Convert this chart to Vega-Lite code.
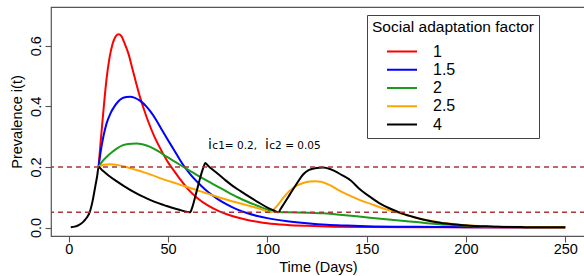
{
  "$schema": "https://vega.github.io/schema/vega-lite/v6.json",
  "width": 534,
  "height": 229,
  "autosize": {"type": "none"},
  "padding": {"left": 51, "top": 7, "right": 0, "bottom": 40},
  "background": "white",
  "config": {
    "view": {"stroke": "#555555", "strokeWidth": 1.2},
    "font": "Liberation Sans",
    "axis": {"grid": false, "domain": false, "tickColor": "#555555", "tickSize": 6, "tickWidth": 1.1, "labelColor": "black", "titleColor": "black", "labelFont": "Liberation Sans", "titleFont": "Liberation Sans", "labelFontSize": 14.5, "titleFontSize": 14.5, "titleFontWeight": "normal", "labelOverlap": false, "labelFlush": false}
  },
  "datasets": {
    "curves": [
      {"factor": "1", "day": 15, "prevalence": 0.2},
      {"factor": "1", "day": 16, "prevalence": 0.28},
      {"factor": "1", "day": 17.5, "prevalence": 0.39},
      {"factor": "1", "day": 19, "prevalence": 0.49},
      {"factor": "1", "day": 20.5, "prevalence": 0.56},
      {"factor": "1", "day": 22, "prevalence": 0.605},
      {"factor": "1", "day": 23.5, "prevalence": 0.63},
      {"factor": "1", "day": 25, "prevalence": 0.638},
      {"factor": "1", "day": 26.5, "prevalence": 0.632},
      {"factor": "1", "day": 28, "prevalence": 0.61},
      {"factor": "1", "day": 30, "prevalence": 0.575},
      {"factor": "1", "day": 32, "prevalence": 0.525},
      {"factor": "1", "day": 34, "prevalence": 0.475},
      {"factor": "1", "day": 36, "prevalence": 0.428},
      {"factor": "1", "day": 38, "prevalence": 0.387},
      {"factor": "1", "day": 40, "prevalence": 0.35},
      {"factor": "1", "day": 43, "prevalence": 0.302},
      {"factor": "1", "day": 46, "prevalence": 0.262},
      {"factor": "1", "day": 50, "prevalence": 0.215},
      {"factor": "1", "day": 53, "prevalence": 0.187},
      {"factor": "1", "day": 56, "prevalence": 0.16},
      {"factor": "1", "day": 60, "prevalence": 0.127},
      {"factor": "1", "day": 65, "prevalence": 0.096},
      {"factor": "1", "day": 70, "prevalence": 0.073},
      {"factor": "1", "day": 75, "prevalence": 0.056},
      {"factor": "1", "day": 80, "prevalence": 0.043},
      {"factor": "1", "day": 85, "prevalence": 0.033},
      {"factor": "1", "day": 90, "prevalence": 0.025},
      {"factor": "1", "day": 95, "prevalence": 0.019},
      {"factor": "1", "day": 100, "prevalence": 0.014},
      {"factor": "1", "day": 110, "prevalence": 0.0085},
      {"factor": "1", "day": 120, "prevalence": 0.0055},
      {"factor": "1", "day": 130, "prevalence": 0.0035},
      {"factor": "1", "day": 150, "prevalence": 0.0018},
      {"factor": "1", "day": 175, "prevalence": 0.001},
      {"factor": "1", "day": 200, "prevalence": 0.0006},
      {"factor": "1", "day": 250, "prevalence": 0.0003},

      {"factor": "1.5", "day": 15, "prevalence": 0.2},
      {"factor": "1.5", "day": 16, "prevalence": 0.248},
      {"factor": "1.5", "day": 17.5, "prevalence": 0.303},
      {"factor": "1.5", "day": 19, "prevalence": 0.343},
      {"factor": "1.5", "day": 21, "prevalence": 0.377},
      {"factor": "1.5", "day": 23, "prevalence": 0.4},
      {"factor": "1.5", "day": 25, "prevalence": 0.417},
      {"factor": "1.5", "day": 27, "prevalence": 0.427},
      {"factor": "1.5", "day": 29, "prevalence": 0.431},
      {"factor": "1.5", "day": 31, "prevalence": 0.432},
      {"factor": "1.5", "day": 33, "prevalence": 0.429},
      {"factor": "1.5", "day": 36, "prevalence": 0.418},
      {"factor": "1.5", "day": 39, "prevalence": 0.4},
      {"factor": "1.5", "day": 41, "prevalence": 0.384},
      {"factor": "1.5", "day": 44, "prevalence": 0.355},
      {"factor": "1.5", "day": 47, "prevalence": 0.321},
      {"factor": "1.5", "day": 50, "prevalence": 0.288},
      {"factor": "1.5", "day": 53, "prevalence": 0.256},
      {"factor": "1.5", "day": 56, "prevalence": 0.223},
      {"factor": "1.5", "day": 58, "prevalence": 0.203},
      {"factor": "1.5", "day": 61, "prevalence": 0.177},
      {"factor": "1.5", "day": 66, "prevalence": 0.142},
      {"factor": "1.5", "day": 70, "prevalence": 0.118},
      {"factor": "1.5", "day": 75, "prevalence": 0.094},
      {"factor": "1.5", "day": 80, "prevalence": 0.075},
      {"factor": "1.5", "day": 85, "prevalence": 0.059},
      {"factor": "1.5", "day": 90, "prevalence": 0.047},
      {"factor": "1.5", "day": 95, "prevalence": 0.038},
      {"factor": "1.5", "day": 100, "prevalence": 0.031},
      {"factor": "1.5", "day": 110, "prevalence": 0.021},
      {"factor": "1.5", "day": 120, "prevalence": 0.014},
      {"factor": "1.5", "day": 130, "prevalence": 0.009},
      {"factor": "1.5", "day": 140, "prevalence": 0.0065},
      {"factor": "1.5", "day": 150, "prevalence": 0.0045},
      {"factor": "1.5", "day": 175, "prevalence": 0.0022},
      {"factor": "1.5", "day": 200, "prevalence": 0.0012},
      {"factor": "1.5", "day": 250, "prevalence": 0.0005},

      {"factor": "2", "day": 15, "prevalence": 0.2},
      {"factor": "2", "day": 17, "prevalence": 0.219},
      {"factor": "2", "day": 19, "prevalence": 0.233},
      {"factor": "2", "day": 22, "prevalence": 0.25},
      {"factor": "2", "day": 24.5, "prevalence": 0.262},
      {"factor": "2", "day": 27, "prevalence": 0.271},
      {"factor": "2", "day": 30, "prevalence": 0.276},
      {"factor": "2", "day": 34, "prevalence": 0.277},
      {"factor": "2", "day": 37, "prevalence": 0.275},
      {"factor": "2", "day": 41, "prevalence": 0.266},
      {"factor": "2", "day": 45, "prevalence": 0.252},
      {"factor": "2", "day": 49.5, "prevalence": 0.233},
      {"factor": "2", "day": 54, "prevalence": 0.215},
      {"factor": "2", "day": 58, "prevalence": 0.199},
      {"factor": "2", "day": 61, "prevalence": 0.187},
      {"factor": "2", "day": 66, "prevalence": 0.168},
      {"factor": "2", "day": 70, "prevalence": 0.153},
      {"factor": "2", "day": 75, "prevalence": 0.135},
      {"factor": "2", "day": 80, "prevalence": 0.117},
      {"factor": "2", "day": 85, "prevalence": 0.1},
      {"factor": "2", "day": 90, "prevalence": 0.085},
      {"factor": "2", "day": 95, "prevalence": 0.072},
      {"factor": "2", "day": 100, "prevalence": 0.059},
      {"factor": "2", "day": 103, "prevalence": 0.053},
      {"factor": "2", "day": 106, "prevalence": 0.051},
      {"factor": "2", "day": 110, "prevalence": 0.05},
      {"factor": "2", "day": 120, "prevalence": 0.049},
      {"factor": "2", "day": 128, "prevalence": 0.047},
      {"factor": "2", "day": 135, "prevalence": 0.043},
      {"factor": "2", "day": 145, "prevalence": 0.037},
      {"factor": "2", "day": 157, "prevalence": 0.029},
      {"factor": "2", "day": 165, "prevalence": 0.024},
      {"factor": "2", "day": 175, "prevalence": 0.018},
      {"factor": "2", "day": 185, "prevalence": 0.012},
      {"factor": "2", "day": 195, "prevalence": 0.008},
      {"factor": "2", "day": 205, "prevalence": 0.004},
      {"factor": "2", "day": 215, "prevalence": 0.002},
      {"factor": "2", "day": 230, "prevalence": 0.001},
      {"factor": "2", "day": 250, "prevalence": 0.0006},

      {"factor": "2.5", "day": 15, "prevalence": 0.2},
      {"factor": "2.5", "day": 17.5, "prevalence": 0.207},
      {"factor": "2.5", "day": 21, "prevalence": 0.209},
      {"factor": "2.5", "day": 25, "prevalence": 0.206},
      {"factor": "2.5", "day": 29, "prevalence": 0.2},
      {"factor": "2.5", "day": 33, "prevalence": 0.192},
      {"factor": "2.5", "day": 37.5, "prevalence": 0.183},
      {"factor": "2.5", "day": 42, "prevalence": 0.173},
      {"factor": "2.5", "day": 46, "prevalence": 0.163},
      {"factor": "2.5", "day": 50, "prevalence": 0.154},
      {"factor": "2.5", "day": 54.5, "prevalence": 0.145},
      {"factor": "2.5", "day": 58, "prevalence": 0.137},
      {"factor": "2.5", "day": 63, "prevalence": 0.127},
      {"factor": "2.5", "day": 66, "prevalence": 0.12},
      {"factor": "2.5", "day": 70, "prevalence": 0.112},
      {"factor": "2.5", "day": 74, "prevalence": 0.103},
      {"factor": "2.5", "day": 78, "prevalence": 0.095},
      {"factor": "2.5", "day": 82, "prevalence": 0.087},
      {"factor": "2.5", "day": 86, "prevalence": 0.08},
      {"factor": "2.5", "day": 90, "prevalence": 0.073},
      {"factor": "2.5", "day": 95, "prevalence": 0.064},
      {"factor": "2.5", "day": 98, "prevalence": 0.058},
      {"factor": "2.5", "day": 101.5, "prevalence": 0.05},
      {"factor": "2.5", "day": 103, "prevalence": 0.058},
      {"factor": "2.5", "day": 105, "prevalence": 0.072},
      {"factor": "2.5", "day": 108, "prevalence": 0.098},
      {"factor": "2.5", "day": 111, "prevalence": 0.12},
      {"factor": "2.5", "day": 115, "prevalence": 0.139},
      {"factor": "2.5", "day": 118, "prevalence": 0.147},
      {"factor": "2.5", "day": 121.5, "prevalence": 0.152},
      {"factor": "2.5", "day": 124, "prevalence": 0.153},
      {"factor": "2.5", "day": 127, "prevalence": 0.151},
      {"factor": "2.5", "day": 131.5, "prevalence": 0.14},
      {"factor": "2.5", "day": 136.5, "prevalence": 0.121},
      {"factor": "2.5", "day": 141.5, "prevalence": 0.105},
      {"factor": "2.5", "day": 146, "prevalence": 0.092},
      {"factor": "2.5", "day": 152, "prevalence": 0.078},
      {"factor": "2.5", "day": 157, "prevalence": 0.066},
      {"factor": "2.5", "day": 162, "prevalence": 0.056},
      {"factor": "2.5", "day": 168, "prevalence": 0.045},
      {"factor": "2.5", "day": 174, "prevalence": 0.034},
      {"factor": "2.5", "day": 180, "prevalence": 0.025},
      {"factor": "2.5", "day": 187, "prevalence": 0.017},
      {"factor": "2.5", "day": 195, "prevalence": 0.011},
      {"factor": "2.5", "day": 202, "prevalence": 0.007},
      {"factor": "2.5", "day": 210, "prevalence": 0.004},
      {"factor": "2.5", "day": 216, "prevalence": 0.003},
      {"factor": "2.5", "day": 230, "prevalence": 0.0015},
      {"factor": "2.5", "day": 250, "prevalence": 0.0008},

      {"factor": "4", "day": 1, "prevalence": 0.001},
      {"factor": "4", "day": 3, "prevalence": 0.003},
      {"factor": "4", "day": 5, "prevalence": 0.008},
      {"factor": "4", "day": 7, "prevalence": 0.017},
      {"factor": "4", "day": 9, "prevalence": 0.032},
      {"factor": "4", "day": 10.5, "prevalence": 0.05},
      {"factor": "4", "day": 12, "prevalence": 0.088},
      {"factor": "4", "day": 13.4, "prevalence": 0.138},
      {"factor": "4", "day": 14.3, "prevalence": 0.17},
      {"factor": "4", "day": 15, "prevalence": 0.2},
      {"factor": "4", "day": 17, "prevalence": 0.188},
      {"factor": "4", "day": 20, "prevalence": 0.172},
      {"factor": "4", "day": 24, "prevalence": 0.153},
      {"factor": "4", "day": 28, "prevalence": 0.136},
      {"factor": "4", "day": 32, "prevalence": 0.12},
      {"factor": "4", "day": 36, "prevalence": 0.106},
      {"factor": "4", "day": 40, "prevalence": 0.094},
      {"factor": "4", "day": 44, "prevalence": 0.083},
      {"factor": "4", "day": 48, "prevalence": 0.074},
      {"factor": "4", "day": 52, "prevalence": 0.065},
      {"factor": "4", "day": 56, "prevalence": 0.058},
      {"factor": "4", "day": 61, "prevalence": 0.05},
      {"factor": "4", "day": 62, "prevalence": 0.063},
      {"factor": "4", "day": 63, "prevalence": 0.085},
      {"factor": "4", "day": 64, "prevalence": 0.11},
      {"factor": "4", "day": 65, "prevalence": 0.135},
      {"factor": "4", "day": 66, "prevalence": 0.16},
      {"factor": "4", "day": 67, "prevalence": 0.183},
      {"factor": "4", "day": 68, "prevalence": 0.202},
      {"factor": "4", "day": 68.7, "prevalence": 0.213},
      {"factor": "4", "day": 70, "prevalence": 0.205},
      {"factor": "4", "day": 74, "prevalence": 0.183},
      {"factor": "4", "day": 78, "prevalence": 0.161},
      {"factor": "4", "day": 82, "prevalence": 0.14},
      {"factor": "4", "day": 86.5, "prevalence": 0.12},
      {"factor": "4", "day": 90, "prevalence": 0.105},
      {"factor": "4", "day": 95, "prevalence": 0.085},
      {"factor": "4", "day": 100, "prevalence": 0.066},
      {"factor": "4", "day": 103, "prevalence": 0.057},
      {"factor": "4", "day": 105.5, "prevalence": 0.05},
      {"factor": "4", "day": 107, "prevalence": 0.065},
      {"factor": "4", "day": 109, "prevalence": 0.085},
      {"factor": "4", "day": 111.5, "prevalence": 0.111},
      {"factor": "4", "day": 115, "prevalence": 0.147},
      {"factor": "4", "day": 118, "prevalence": 0.175},
      {"factor": "4", "day": 121, "prevalence": 0.19},
      {"factor": "4", "day": 124, "prevalence": 0.196},
      {"factor": "4", "day": 128, "prevalence": 0.198},
      {"factor": "4", "day": 131.5, "prevalence": 0.193},
      {"factor": "4", "day": 134, "prevalence": 0.186},
      {"factor": "4", "day": 137, "prevalence": 0.175},
      {"factor": "4", "day": 142, "prevalence": 0.155},
      {"factor": "4", "day": 146, "prevalence": 0.13},
      {"factor": "4", "day": 152, "prevalence": 0.1},
      {"factor": "4", "day": 157, "prevalence": 0.078},
      {"factor": "4", "day": 162, "prevalence": 0.062},
      {"factor": "4", "day": 168, "prevalence": 0.046},
      {"factor": "4", "day": 174, "prevalence": 0.034},
      {"factor": "4", "day": 180, "prevalence": 0.024},
      {"factor": "4", "day": 187, "prevalence": 0.016},
      {"factor": "4", "day": 195, "prevalence": 0.01},
      {"factor": "4", "day": 202, "prevalence": 0.006},
      {"factor": "4", "day": 210, "prevalence": 0.004},
      {"factor": "4", "day": 216, "prevalence": 0.0025},
      {"factor": "4", "day": 230, "prevalence": 0.0012},
      {"factor": "4", "day": 250, "prevalence": 0.0006}
    ],
    "thresholds": [
      {"threshold": 0.2},
      {"threshold": 0.05}
    ],
    "annI": [
      {"day": 70.1, "prevalence": 0.258, "label": "i"},
      {"day": 98.8, "prevalence": 0.258, "label": "i"}
    ],
    "annText": [
      {"day": 72.3, "prevalence": 0.258, "label": "c1= 0.2,"},
      {"day": 101.0, "prevalence": 0.258, "label": "c2 = 0.05"}
    ]
  },
  "layer": [
    {
      "data": {"name": "curves"},
      "mark": {"type": "line", "strokeWidth": 2, "interpolate": "monotone", "clip": true},
      "encoding": {
        "x": {
          "field": "day", "type": "quantitative",
          "scale": {"domain": [-8.96, 259.96], "nice": false, "zero": false},
          "axis": {"values": [0, 50, 100, 150, 200, 250], "labelPadding": 0, "title": "Time (Days)", "titlePadding": 5}
        },
        "y": {
          "field": "prevalence", "type": "quantitative",
          "scale": {"domain": [-0.028, 0.728], "nice": false, "zero": false},
          "axis": {
            "values": [0, 0.1, 0.2, 0.3, 0.4, 0.5, 0.6, 0.7],
            "labelExpr": "(round(datum.value * 10) % 2 == 0) ? format(datum.value, '.1f') : ''",
            "labelAngle": -90, "labelAlign": "center", "labelBaseline": "alphabetic", "labelPadding": 5,
            "title": "Prevalence i(t)", "titlePadding": 4
          }
        },
        "color": {
          "field": "factor", "type": "nominal",
          "scale": {"domain": ["1", "1.5", "2", "2.5", "4"], "range": ["#FF0000", "#0000FF", "#1C9A1C", "#FFA500", "#000000"]},
          "legend": {
            "orient": "none", "legendX": 316, "legendY": 8,
            "title": "Social adaptation factor",
            "titleFont": "Liberation Sans", "titleFontSize": 15.5, "titleFontWeight": "normal", "titleColor": "black", "titleLimit": 400,
            "labelFont": "Liberation Sans", "labelFontSize": 16, "labelColor": "black",
            "strokeColor": "#444444", "fillColor": "white", "padding": 5, "cornerRadius": 0,
            "symbolType": "stroke", "symbolSize": 900, "symbolStrokeWidth": 2, "symbolOffset": 14,
            "labelOffset": 15, "clipHeight": 16, "rowPadding": 2.25, "titlePadding": 8
          }
        }
      }
    },
    {
      "data": {"name": "thresholds"},
      "mark": {"type": "rule", "color": "#A8363A", "strokeWidth": 1.5, "strokeDash": [5, 4]},
      "encoding": {
        "y": {"field": "threshold", "type": "quantitative"}
      }
    },
    {
      "data": {"name": "annI"},
      "mark": {"type": "text", "font": "DejaVu Sans", "fontSize": 14, "align": "left", "baseline": "alphabetic", "color": "black"},
      "encoding": {
        "x": {"field": "day", "type": "quantitative"},
        "y": {"field": "prevalence", "type": "quantitative"},
        "text": {"field": "label"}
      }
    },
    {
      "data": {"name": "annText"},
      "mark": {"type": "text", "font": "DejaVu Sans", "fontSize": 10.5, "align": "left", "baseline": "alphabetic", "color": "black"},
      "encoding": {
        "x": {"field": "day", "type": "quantitative"},
        "y": {"field": "prevalence", "type": "quantitative"},
        "text": {"field": "label"}
      }
    }
  ]
}
